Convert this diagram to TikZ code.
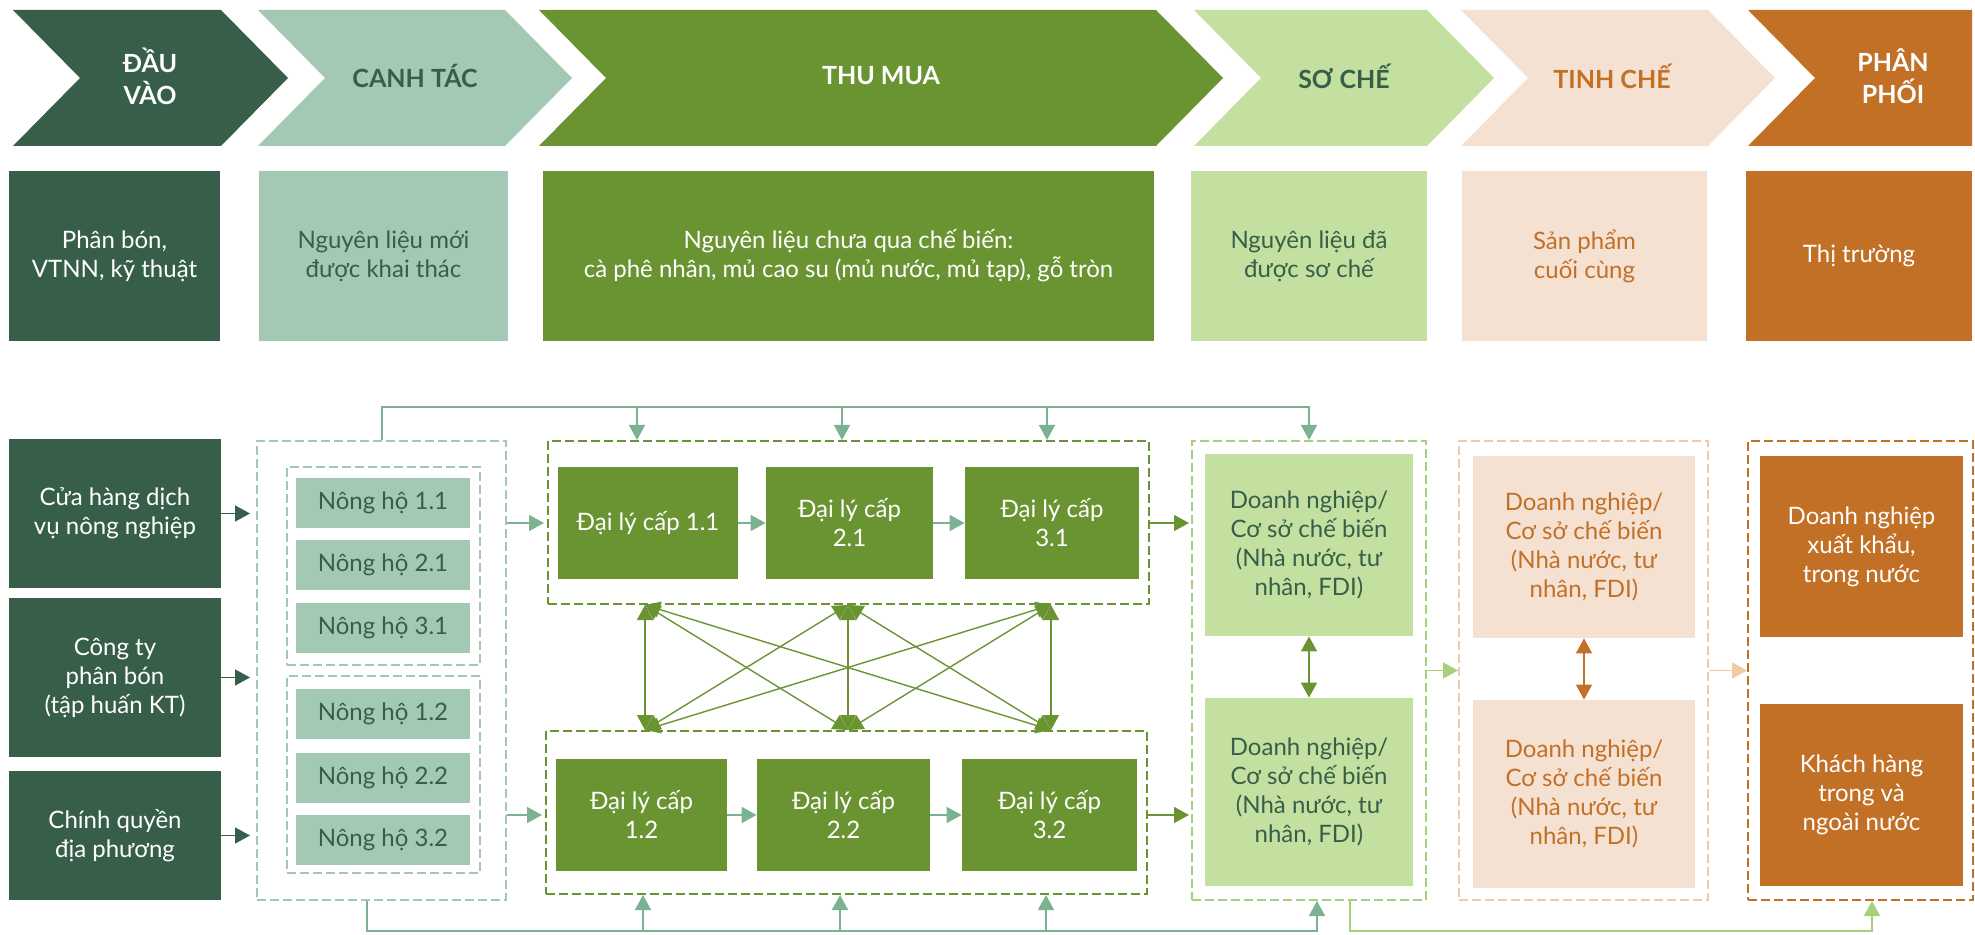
\documentclass[tikz,border=0pt]{standalone}
\usepackage{fontspec}
\setmainfont{Lato}
\usetikzlibrary{arrows.meta}
\definecolor{dkgreen}{RGB}{55,94,72}
\definecolor{sage}{RGB}{163,201,180}
\definecolor{leaf}{RGB}{106,148,50}
\definecolor{lime}{RGB}{196,224,160}
\definecolor{peach}{RGB}{245,225,209}
\definecolor{rust}{RGB}{194,112,38}
\definecolor{teal}{RGB}{122,178,146}
\definecolor{limeline}{RGB}{167,208,122}
\definecolor{peachline}{RGB}{242,201,165}

\begin{document}
\begin{tikzpicture}[x=0.5pt,y=-0.5pt,
  sz/.style 2 args={minimum width=#1*0.5pt,minimum height=#2*0.5pt},
  box/.style={inner sep=0pt,align=center,font=\fontsize{12}{14.5}\selectfont},
  grp/.style={draw=#1,line width=1pt,dash pattern=on 4.5pt off 2pt,inner sep=0pt},
  hdtxt/.style={align=center,font=\fontsize{12.5}{16}\selectfont\bfseries},
  onearr/.style={-{Triangle[length=7.5pt,width=8pt]},line width=0.8pt},
  twoarr/.style={{Triangle[length=7.5pt,width=8pt]}-{Triangle[length=7.5pt,width=8pt]},line width=0.8pt}]
\useasboundingbox (0,0) rectangle (1975,935);

% chevrons
\foreach \a/\b/\c in {13/221/dkgreen,258/505/sage,539/1156/leaf,1194/1427/lime,1461/1708/peach}
  \fill[\c] (\a,10) -- (\b,10) -- ({\b+67},78) -- (\b,146) -- (\a,146) -- ({\a+67},78) -- cycle;
\fill[rust] (1748,10) -- (1972,10) -- (1972,146) -- (1748,146) -- (1815,78) -- cycle;
\node[hdtxt,text=white] (h1) at (150,76) {ĐẦU\\VÀO};
\node[hdtxt,text=dkgreen] (h2) at (415,76) {CANH TÁC};
\node[hdtxt,text=white] (h3) at (881,76) {THU MUA};
\node[hdtxt,text=dkgreen] (h4) at (1344,76) {SƠ CHẾ};
\node[hdtxt,text=rust] (h5) at (1612,76) {TINH CHẾ};
\node[hdtxt,text=white] (h6) at (1893,76) {PHÂN\\PHỐI};

% description row
\node[box,sz={211}{170},fill=dkgreen,text=white] (d1) at (114.5,256) {Phân bón,\\VTNN, kỹ thuật};
\node[box,sz={249}{170},fill=sage,text=dkgreen] (d2) at (383.5,256) {Nguyên liệu mới\\được khai thác};
\node[box,sz={611}{170},fill=leaf,text=white] (d3) at (848.5,256) {Nguyên liệu chưa qua chế biến:\\cà phê nhân, mủ cao su (mủ nước, mủ tạp), gỗ tròn};
\node[box,sz={236}{170},fill=lime,text=dkgreen] (d4) at (1309,256) {Nguyên liệu đã\\được sơ chế};
\node[box,sz={245}{170},fill=peach,text=rust] (d5) at (1584.5,256) {Sản phẩm\\cuối cùng};
\node[box,sz={226}{170},fill=rust,text=white] (d6) at (1859,256) {Thị trường};

% inputs
\node[box,sz={212}{149},fill=dkgreen,text=white] (src1) at (115,513.5) {Cửa hàng dịch\\vụ nông nghiệp};
\node[box,sz={212}{159},fill=dkgreen,text=white] (src2) at (115,677.5) {Công ty\\phân bón\\(tập huấn KT)};
\node[box,sz={212}{129},fill=dkgreen,text=white] (src3) at (115,835.5) {Chính quyền\\địa phương};

% farmers
\node[grp=sage,sz={249}{459}] (farm) at (381.5,670.5) {};
\node[grp=sage,sz={193}{198}] (farm1) at (383.5,566) {};
\node[grp=sage,sz={193}{197}] (farm2) at (383.5,774.5) {};
\foreach \n/\y [count=\k] in {1.1/503,2.1/565,3.1/628,1.2/714,2.2/777.5,3.2/840}
  \node[box,sz={174}{50},fill=sage,text=dkgreen] (nh\k) at (383,\y) {Nông hộ \n};

% agents
\node[grp=leaf,sz={601}{163}] (agt1) at (848.5,522.5) {};
\node[grp=leaf,sz={601}{163}] (agt2) at (846.5,812.5) {};
\node[box,sz={180}{112},fill=leaf,text=white] (dl11) at (648,523) {Đại lý cấp 1.1};
\node[box,sz={167}{112},fill=leaf,text=white] (dl21) at (849.5,523) {Đại lý cấp\\2.1};
\node[box,sz={174}{112},fill=leaf,text=white] (dl31) at (1052,523) {Đại lý cấp\\3.1};
\node[box,sz={171}{112},fill=leaf,text=white] (dl12) at (641.5,815) {Đại lý cấp\\1.2};
\node[box,sz={173}{112},fill=leaf,text=white] (dl22) at (843.5,815) {Đại lý cấp\\2.2};
\node[box,sz={175}{112},fill=leaf,text=white] (dl32) at (1049.5,815) {Đại lý cấp\\3.2};

% processing, refining, distribution
\node[grp=limeline,sz={234}{459}] (proc) at (1309,670.5) {};
\node[box,sz={208}{182},fill=lime,text=dkgreen] (sc1) at (1309,545) {Doanh nghiệp/\\Cơ sở chế biến\\(Nhà nước, tư\\nhân, FDI)};
\node[box,sz={208}{188},fill=lime,text=dkgreen] (sc2) at (1309,792) {Doanh nghiệp/\\Cơ sở chế biến\\(Nhà nước, tư\\nhân, FDI)};
\node[grp=peachline,sz={249}{459}] (refn) at (1583.5,670.5) {};
\node[box,sz={222}{182},fill=peach,text=rust] (tc1) at (1584,547) {Doanh nghiệp/\\Cơ sở chế biến\\(Nhà nước, tư\\nhân, FDI)};
\node[box,sz={222}{188},fill=peach,text=rust] (tc2) at (1584,794) {Doanh nghiệp/\\Cơ sở chế biến\\(Nhà nước, tư\\nhân, FDI)};
\node[grp=rust,sz={225}{459}] (dist) at (1860.5,670.5) {};
\node[box,sz={203}{181},fill=rust,text=white] (pp1) at (1861.5,546.5) {Doanh nghiệp\\xuất khẩu,\\trong nước};
\node[box,sz={203}{182},fill=rust,text=white] (pp2) at (1861.5,795) {Khách hàng\\trong và\\ngoài nước};

% connectors
\foreach \i in {1,2,3}
  \draw[onearr,dkgreen,shorten >=3pt] (src\i.east) -- (src\i.east -| farm.west);
\draw[onearr,teal,shorten >=1.5pt] (farm.east |- dl11) -- (agt1.west |- dl11);
\draw[onearr,teal,shorten >=1.5pt] (farm.east |- dl12) -- (agt2.west |- dl12);
\draw[onearr,teal] (dl11) -- (dl21);
\draw[onearr,teal] (dl21) -- (dl31);
\draw[onearr,teal] (dl12) -- (dl22);
\draw[onearr,teal] (dl22) -- (dl32);
\draw[onearr,leaf,shorten >=1pt] (agt1.east |- dl31) -- (proc.west |- dl31);
\draw[onearr,leaf,shorten >=1pt] (agt2.east |- dl32) -- (proc.west |- dl32);
\draw[twoarr,leaf] (sc1) -- (sc2);
\draw[twoarr,rust] (tc1) -- (tc2);
\draw[onearr,limeline] (proc) -- (refn);
\draw[onearr,peachline] (refn) -- (dist);

\foreach \x [count=\k] in {645,848,1051} {
  \coordinate (up\k) at (\x,0 |- agt1.south);
  \coordinate (lo\k) at (\x,0 |- agt2.north);
}
\foreach \i in {1,2,3}
  \foreach \j in {1,2,3}
    \draw[twoarr,leaf,line width=0.7pt] (up\i) -- (lo\j);

\coordinate (railt) at (382,407);
\coordinate (railb) at (367,931);
\coordinate (raill) at (1350,931);
\draw[onearr,teal] (railt |- farm.north) -- (railt) -| (proc.north);
\foreach \x in {637,842,1047}
  \draw[onearr,teal] (\x,407) -- (\x,0 |- agt1.north);
\draw[onearr,teal] (railb |- farm.south) -- (railb) -| ([xshift=4pt]proc.south);
\foreach \x in {643,840,1046}
  \draw[onearr,teal] (\x,931) -- (\x,0 |- agt2.south);
\draw[onearr,limeline] (raill |- proc.south) -- (raill) -| ([xshift=5.75pt]dist.south);
\end{tikzpicture}
\end{document}
